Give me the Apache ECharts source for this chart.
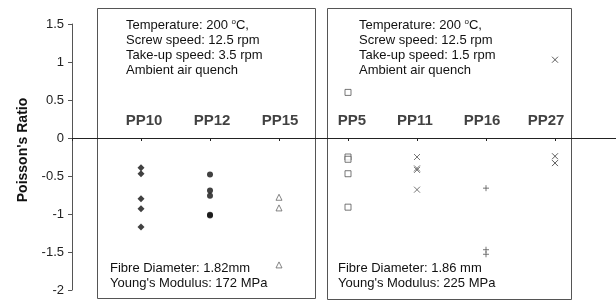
<!DOCTYPE html>
<html>
<head>
<meta charset="utf-8">
<script src="https://cdn.jsdelivr.net/npm/echarts@6/dist/echarts.min.js"></script>
<style>
  html, body { margin: 0; padding: 0; background: #fff; }
  #chart { width: 616px; height: 302px; }
</style>
</head>
<body>
<div id="chart"></div>
<script>
// samples, one list of Poisson's ratio readings per fibre
const categories = ['PP10', 'PP12', 'PP15', 'PP5', 'PP11', 'PP16', 'PP27']
const pp10 = [-0.39, -0.47, -0.80, -0.93, -1.17]
const pp12 = [-0.48, -0.69, -0.76, -1.01, -1.02]
const pp15 = [-0.78, -0.92, -1.67]
const pp5 = [0.60, -0.25, -0.28, -0.47, -0.91]
const pp11 = [-0.25, -0.40, -0.42, -0.68]
const pp16 = [-0.66, -1.47, -1.53]
const pp27 = [1.03, -0.24, -0.33]
const yTicks = [-2, -1.5, -1, -0.5, 0, 0.5, 1, 1.5]

const leftNotes = ['Temperature: 200 {sup|o}C,', 'Screw speed: 12.5 rpm', 'Take-up speed: 3.5 rpm', 'Ambient air quench']
const rightNotes = ['Temperature: 200 {sup|o}C,', 'Screw speed: 12.5 rpm', 'Take-up speed: 1.5 rpm', 'Ambient air quench']
const leftFoot = ['Fibre Diameter: 1.82mm', "Young's Modulus: 172 MPa"]
const rightFoot = ['Fibre Diameter: 1.86 mm', "Young's Modulus: 225 MPa"]

// the name labels were placed by hand in the original, a little off the ticks
const labelShift = [3, 2, 1, 4, -2, -4, -9]

const FONT = '"Liberation Sans", Arial, sans-serif'
const crossPath = 'path://M0,0L10,10M10,0L0,10'
const plusPath = 'path://M5,0L5,10M0,5L10,5'

const toPoints = (vals, idx) => vals.map(v => [idx + 1, v])

const mk = (vals, idx, symbol, style, size) => ({
  name: categories[idx],
  type: 'scatter',
  symbol: symbol,
  symbolSize: size || 6,
  data: toPoints(vals, idx),
  itemStyle: style,
  emphasis: { disabled: true }
})

const noteText = (lines, x, y) => ({
  type: 'text',
  left: x,
  top: y,
  style: {
    text: lines.join('\n'),
    font: '13px ' + FONT,
    fill: '#111',
    lineHeight: 15,
    rich: { sup: { fontSize: 8, verticalAlign: 'top', padding: [0, 0, 6, 0], fill: '#111' } }
  }
})

const box = (x, y, w, h) => ({
  type: 'rect',
  shape: { x: x + 0.5, y: y + 0.5, width: w, height: h },
  style: { fill: 'none', stroke: '#555', lineWidth: 1 },
  z: 0
})

const chart = echarts.init(document.getElementById('chart'), null, { renderer: 'canvas' })

chart.setOption({
  backgroundColor: '#fff',
  animation: false,
  grid: { left: 72, right: 0, top: 24, bottom: 12 },
  xAxis: {
    type: 'value',
    min: 0,
    max: 7.884,
    interval: 1,
    splitLine: { show: false },
    axisLine: { onZero: true, lineStyle: { color: '#222', width: 1 } },
    axisTick: { show: true, length: 3, lineStyle: { color: '#222' } },
    axisLabel: { show: false }
  },
  yAxis: {
    type: 'value',
    min: yTicks[0],
    max: yTicks[yTicks.length - 1],
    interval: 0.5,
    splitLine: { show: false },
    axisLine: { show: true, lineStyle: { color: '#555', width: 1 } },
    axisTick: { show: true, length: 4, lineStyle: { color: '#555' } },
    axisLabel: { color: '#222', fontFamily: FONT, fontSize: 13, margin: 8 }
  },
  graphic: [
    box(97, 8, 218, 290),
    box(327, 8, 244, 291),
    noteText(leftNotes, 126, 18),
    noteText(rightNotes, 359, 18),
    noteText(leftFoot, 110, 261),
    noteText(rightFoot, 338, 261),
    {
      type: 'text',
      x: 23,
      y: 150,
      rotation: Math.PI / 2,
      style: {
        text: "Poisson's Ratio",
        font: 'bold 14px ' + FONT,
        fill: '#111',
        align: 'center',
        verticalAlign: 'middle'
      }
    }
  ],
  series: [
    {
      name: 'sample names',
      type: 'scatter',
      symbolSize: 0,
      silent: true,
      data: categories.map((c, i) => ({
        value: [i + 1, 0],
        name: c,
        label: { offset: [labelShift[i], 0] }
      })),
      label: {
        show: true,
        position: 'top',
        distance: 10,
        formatter: '{b}',
        color: '#111',
        fontFamily: FONT,
        fontSize: 15,
        fontWeight: 'bold'
      }
    },
    mk(pp10, 0, 'diamond', { color: '#111' }, 7),
    mk(pp12, 1, 'circle', { color: '#111' }, 6),
    mk(pp15, 2, 'triangle', { color: '#fff', borderColor: '#666', borderWidth: 1 }, 6),
    mk(pp5, 3, 'rect', { color: '#fff', borderColor: '#555', borderWidth: 1 }, 6),
    mk(pp11, 4, crossPath, { color: 'none', borderColor: '#555', borderWidth: 1 }, 6),
    mk(pp16, 5, plusPath, { color: 'none', borderColor: '#555', borderWidth: 1 }, 6),
    mk(pp27, 6, crossPath, { color: 'none', borderColor: '#333', borderWidth: 1 }, 6)
  ]
})
</script>
</body>
</html>
